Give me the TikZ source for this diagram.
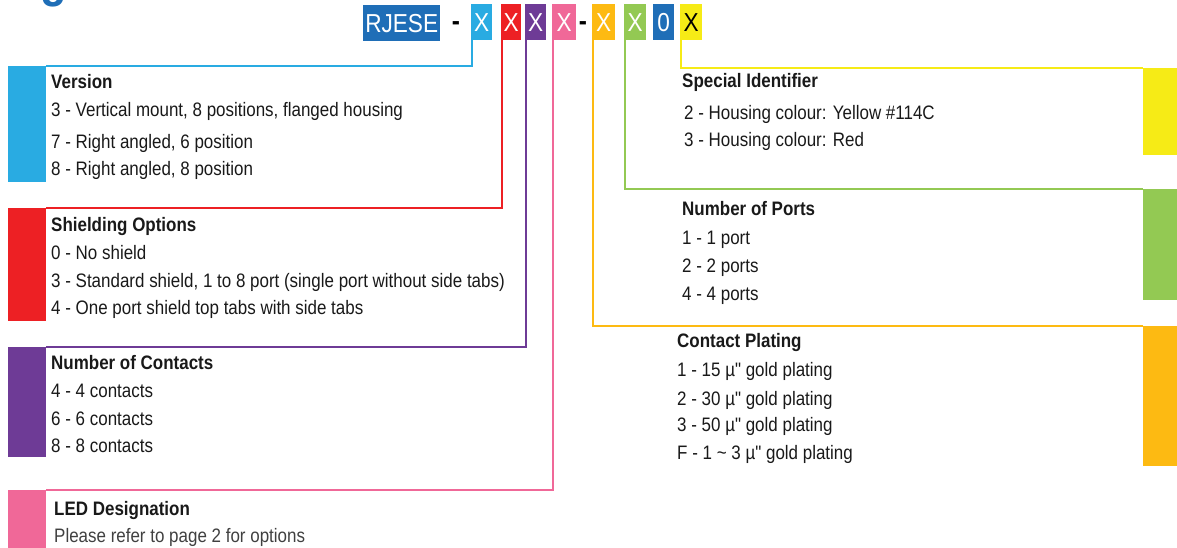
\documentclass[tikz,border=0pt]{standalone}
\usepackage{fontspec}
\setmainfont[FakeStretch=0.87, Ligatures=TeXOff]{Liberation Sans}
\definecolor{dblue}{RGB}{31,110,183}
\definecolor{cyanc}{RGB}{41,171,226}
\definecolor{redc}{RGB}{237,32,36}
\definecolor{purplec}{RGB}{110,59,150}
\definecolor{pinkc}{RGB}{240,104,152}
\definecolor{orangec}{RGB}{253,186,18}
\definecolor{greenc}{RGB}{147,201,83}
\definecolor{yellowc}{RGB}{246,235,22}
\definecolor{txt}{RGB}{25,25,25}
\newcommand{\dq}{\symbol{34}}
\begin{document}
\begin{tikzpicture}[x=1pt,y=-1pt,
  codebox/.style={fill=#1, text=white, inner sep=0pt, minimum height=36pt, anchor=north west,
    font=\fontsize{26}{26}\selectfont},
  bar/.style={fill=#1, draw=none, inner sep=0pt, anchor=north west},
  lead/.style={draw=#1, line width=2pt},
  ttl/.style={anchor=base west, inner sep=0pt, text=txt, font=\fontsize{19.5}{21}\selectfont\bfseries},
  itm/.style={anchor=base west, inner sep=0pt, text=txt, font=\fontsize{19.5}{21}\selectfont},
  dashmark/.style={anchor=center, inner sep=0pt, font=\fontsize{28}{28}\selectfont\bfseries}
]
\useasboundingbox (0,0) rectangle (1177,547);
\clip (0,0) rectangle (1177,547);
% partial heading glyph
\node[anchor=base west, inner sep=0pt, text=dblue, font=\fontsize{50}{50}\selectfont\bfseries] (hg) at (40,-4) {g};
% code row
\node[codebox=dblue, minimum width=77pt] (rj) at (363,5) {RJESE};
\node[dashmark] (d1) at (456,26) {-};
\node[codebox=cyanc, minimum width=21pt] (x1) at (471,4) {X};
\node[codebox=redc, minimum width=20pt] (x2) at (501,4) {X};
\node[codebox=purplec, minimum width=21pt] (x3) at (525,4) {X};
\node[codebox=pinkc, minimum width=24pt] (x4) at (552,4) {X};
\node[dashmark] (d2) at (583,26) {-};
\node[codebox=orangec, minimum width=23pt] (x5) at (592,4) {X};
\node[codebox=greenc, minimum width=22pt] (x6) at (624,4) {X};
\node[codebox=dblue, minimum width=21pt] (x0) at (653,4) {0};
\node[codebox=yellowc, minimum width=22pt, text=black] (x7) at (680,4) {X};
% bars
\node[bar=cyanc, minimum width=38pt, minimum height=116pt] (b1) at (8,66) {};
\node[bar=redc, minimum width=38pt, minimum height=113pt] (b2) at (8,208) {};
\node[bar=purplec, minimum width=38pt, minimum height=110pt] (b3) at (8,347) {};
\node[bar=pinkc, minimum width=38pt, minimum height=60pt] (b4) at (8,490) {};
\node[bar=yellowc, minimum width=34pt, minimum height=87pt] (b7) at (1143,68) {};
\node[bar=greenc, minimum width=34pt, minimum height=111pt] (b6) at (1143,189) {};
\node[bar=orangec, minimum width=34pt, minimum height=140pt] (b5) at (1143,326) {};
% leads
\draw[lead=cyanc] ([xshift=1pt]x1.south west) |- (b1.north east);
\draw[lead=redc] ([xshift=1pt]x2.south west) |- (b2.north east);
\draw[lead=purplec] ([xshift=1pt]x3.south west) |- (b3.north east);
\draw[lead=pinkc] ([xshift=1pt]x4.south west) |- (b4.north east);
\draw[lead=yellowc] ([xshift=1pt]x7.south west) |- (b7.north west);
\draw[lead=greenc] ([xshift=1pt]x6.south west) |- (b6.north west);
\draw[lead=orangec] ([xshift=1pt]x5.south west) |- (b5.north west);
% left texts
\node[ttl] (t1) at (51,88) {Version};
\node[itm] (t1a) at (51,116) {3 - Vertical mount, 8 positions, flanged housing};
\node[itm] (t1b) at (51,148) {7 - Right angled, 6 position};
\node[itm] (t1c) at (51,175) {8 - Right angled, 8 position};
\node[ttl] (t2) at (51,231) {Shielding Options};
\node[itm] (t2a) at (51,259) {0 - No shield};
\node[itm] (t2b) at (51,287) {3 - Standard shield, 1 to 8 port (single port without side tabs)};
\node[itm] (t2c) at (51,314) {4 - One port shield top tabs with side tabs};
\node[ttl] (t3) at (51,369) {Number of Contacts};
\node[itm] (t3a) at (51,397) {4 - 4 contacts};
\node[itm] (t3b) at (51,425) {6 - 6 contacts};
\node[itm] (t3c) at (51,452) {8 - 8 contacts};
\node[ttl] (t4) at (54,515) {LED Designation};
\node[itm, text=black!75] (t4a) at (54,542) {Please refer to page 2 for options};
% right texts
\node[ttl] (t7) at (682,87) {Special Identifier};
\node[itm] (t7a) at (684,119) {2 - Housing colour: Yellow \#114C};
\node[itm] (t7b) at (684,146) {3 - Housing colour: Red};
\node[ttl] (t6) at (682,215) {Number of Ports};
\node[itm] (t6a) at (682,244) {1 - 1 port};
\node[itm] (t6b) at (682,272) {2 - 2 ports};
\node[itm] (t6c) at (682,300) {4 - 4 ports};
\node[ttl] (t5) at (677,347) {Contact Plating};
\node[itm] (t5a) at (677,376) {1 - 15 µ\dq{} gold plating};
\node[itm] (t5b) at (677,405) {2 - 30 µ\dq{} gold plating};
\node[itm] (t5c) at (677,431) {3 - 50 µ\dq{} gold plating};
\node[itm] (t5d) at (677,459) {F - 1 \textasciitilde{} 3 µ\dq{} gold plating};
\end{tikzpicture}
\end{document}
